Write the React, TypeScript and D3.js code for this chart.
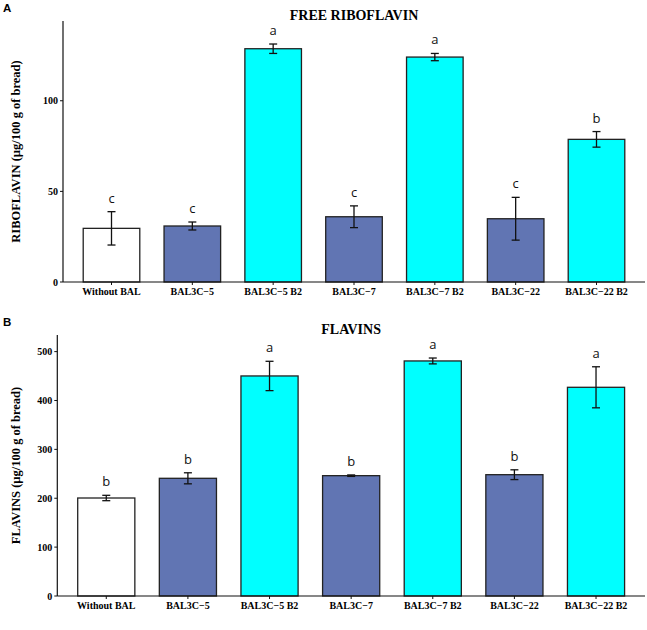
import * as d3 from "d3";

// groups on the x axis
const categories = [
  "Without BAL",
  "BAL3C\u22125",
  "BAL3C\u22125 B2",
  "BAL3C\u22127",
  "BAL3C\u22127 B2",
  "BAL3C\u221222",
  "BAL3C\u221222 B2",
];
// fill group per bar: control, strain, strain + B2
const fillGroups = ["none", "bal", "b2", "bal", "b2", "bal", "b2"];

// panel A: free riboflavin
const riboMean = [29.6, 30.9, 128.7, 36.0, 124.1, 34.9, 78.7];
const riboSd = [9.2, 2.2, 2.6, 6.0, 2.0, 11.8, 4.3];
const riboLetters = ["c", "c", "a", "c", "a", "c", "b"];
const riboTicks = [0, 50, 100];

// panel B: flavins
const flavMean = [200.5, 240.8, 450.2, 246.2, 480.9, 248.2, 427.0];
const flavSd = [5.5, 11.3, 30.0, 1.5, 6.0, 10.0, 42.0];
const flavLetters = ["b", "b", "a", "b", "a", "b", "a"];
const flavTicks = [0, 100, 200, 300, 400, 500];

const COLORS: Record<string, string> = { none: "#ffffff", bal: "#6175b3", b2: "#00ffff" };
const SERIF = "'Liberation Serif', 'Times New Roman', serif";
const SANS = "'Open Sans', 'DejaVu Sans', sans-serif";
const TAG = "'Liberation Sans', Arial, sans-serif";

type PanelProps = {
  top: number;
  left: number;
  right: number;
  bottom: number;
  yMax: number;
  tag: string;
  title: string;
  yLabel: string;
  means: number[];
  sds: number[];
  letters: string[];
  ticks: number[];
};

const Panel = (p: PanelProps) => {
  const xScale = d3
    .scaleBand<string>()
    .domain(categories)
    .range([p.left, p.right])
    .paddingInner(0.3)
    .paddingOuter(0.25);
  const yScale = d3.scaleLinear().domain([0, p.yMax]).range([p.bottom, p.top]);
  const bw = xScale.bandwidth();
  const cap = 4;

  return (
    <g>
      <text x={3} y={p.top - 9} fontFamily={TAG} fontWeight="bold" fontSize={11.5}>
        {p.tag}
      </text>
      <text
        x={(p.left + p.right) / 2}
        y={p.top - 1}
        textAnchor="middle"
        fontFamily={SERIF}
        fontWeight="bold"
        fontSize={14}
      >
        {p.title}
      </text>
      <text
        transform={`translate(20,${(p.top + p.bottom) / 2}) rotate(-90)`}
        textAnchor="middle"
        fontFamily={SERIF}
        fontWeight="bold"
        fontSize={12.5}
      >
        {p.yLabel}
      </text>

      {/* bars */}
      {categories.map((c, i) => (
        <rect
          key={c}
          x={xScale(c)}
          width={bw}
          y={yScale(p.means[i])}
          height={yScale(0) - yScale(p.means[i])}
          fill={COLORS[fillGroups[i]]}
          stroke="#222"
          strokeWidth={1.3}
        />
      ))}

      {/* error bars + letters */}
      {categories.map((c, i) => {
        const cx = (xScale(c) ?? 0) + bw / 2;
        const hi = yScale(p.means[i] + p.sds[i]);
        const lo = yScale(p.means[i] - p.sds[i]);
        return (
          <g key={c} stroke="#111" strokeWidth={1.3}>
            <line x1={cx} x2={cx} y1={hi} y2={lo} />
            <line x1={cx - cap} x2={cx + cap} y1={hi} y2={hi} />
            <line x1={cx - cap} x2={cx + cap} y1={lo} y2={lo} />
            <text
              x={cx}
              y={hi - 9}
              stroke="none"
              fill="#111"
              textAnchor="middle"
              fontFamily={SANS}
              fontSize={13}
            >
              {p.letters[i]}
            </text>
          </g>
        );
      })}

      {/* axes */}
      <line x1={p.left} x2={p.left} y1={p.top} y2={p.bottom} stroke="#111" strokeWidth={1.2} />
      <line x1={p.left} x2={p.right} y1={p.bottom} y2={p.bottom} stroke="#111" strokeWidth={1.2} />
      {p.ticks.map((t) => (
        <g key={t}>
          <line x1={p.left - 3} x2={p.left} y1={yScale(t)} y2={yScale(t)} stroke="#111" />
          <text
            x={p.left - 5}
            y={yScale(t)}
            dy="0.35em"
            textAnchor="end"
            fontFamily={SERIF}
            fontWeight="bold"
            fontSize={10}
          >
            {t}
          </text>
        </g>
      ))}
      {categories.map((c) => {
        const cx = (xScale(c) ?? 0) + bw / 2;
        return (
          <g key={c}>
            <line x1={cx} x2={cx} y1={p.bottom} y2={p.bottom + 3} stroke="#111" />
            <text
              x={cx}
              y={p.bottom + 13}
              textAnchor="middle"
              fontFamily={SERIF}
              fontWeight="bold"
              fontSize={10}
            >
              {c}
            </text>
          </g>
        );
      })}
    </g>
  );
};

export default function App() {
  return (
    <svg
      width={647}
      height={630}
      style={{ position: "absolute", left: 0, top: 0, background: "#fff" }}
    >
      <Panel
        top={21}
        left={63}
        right={645}
        bottom={282}
        yMax={144}
        tag="A"
        title="FREE RIBOFLAVIN"
        yLabel="RIBOFLAVIN (µg/100 g of bread)"
        means={riboMean}
        sds={riboSd}
        letters={riboLetters}
        ticks={riboTicks}
      />
      <Panel
        top={335}
        left={57.3}
        right={645}
        bottom={596}
        yMax={534}
        tag="B"
        title="FLAVINS"
        yLabel="FLAVINS (µg/100 g of bread)"
        means={flavMean}
        sds={flavSd}
        letters={flavLetters}
        ticks={flavTicks}
      />
    </svg>
  );
}
